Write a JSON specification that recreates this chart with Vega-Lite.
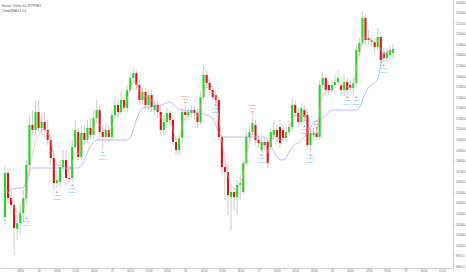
{
"$schema":"https://vega.github.io/schema/vega-lite/v6.json",
"width":453,"height":268,"autosize":"none","padding":{"left":0,"top":0,"right":13,"bottom":7},"background":"white",
"config":{"view":{"stroke":null},"font":"Liberation Sans","axis":{"labelOverlap":false,"labelSeparation":0,"labelBound":false}},
"title":{"text":["Bitcoin / Dollar, 60, BITFINEX","Trend BMA 41 1.4"],"anchor":"start","offset":-13,"fontSize":3,"fontWeight":"normal","color":"#555","lineHeight":5,"dx":2},
"datasets":{
"bars":[
{"t":"2019-08-23T13:00:00Z","o":10263,"h":10755,"l":10187,"c":10679,"f":10519,"s":10519},
{"t":"2019-08-23T14:00:00Z","o":10679,"h":10727,"l":10377,"c":10443,"f":10500,"s":10519},
{"t":"2019-08-23T15:00:00Z","o":10443,"h":10519,"l":10282,"c":10377,"f":10452,"s":10528},
{"t":"2019-08-23T16:00:00Z","o":10377,"h":10424,"l":9904,"c":10159,"f":10358,"s":10528},
{"t":"2019-08-23T17:00:00Z","o":10150,"h":10282,"l":10046,"c":10206,"f":10310,"s":10537},
{"t":"2019-08-23T18:00:00Z","o":10206,"h":10377,"l":10093,"c":10301,"f":10301,"s":10537},
{"t":"2019-08-23T19:00:00Z","o":10301,"h":10519,"l":10216,"c":10443,"f":10348,"s":10537},
{"t":"2019-08-23T20:00:00Z","o":10443,"h":10802,"l":10377,"c":10755,"f":10471,"s":10594},
{"t":"2019-08-23T21:00:00Z","o":10755,"h":11228,"l":10708,"c":11134,"f":10689,"s":10689},
{"t":"2019-08-23T22:00:00Z","o":11134,"h":11275,"l":11039,"c":11086,"f":10850,"s":10727},
{"t":"2019-08-23T23:00:00Z","o":11086,"h":11370,"l":11039,"c":11256,"f":10992,"s":10727},
{"t":"2019-08-24T00:00:00Z","o":11256,"h":11370,"l":11067,"c":11105,"f":11039,"s":10727},
{"t":"2019-08-24T01:00:00Z","o":11105,"h":11228,"l":11039,"c":11162,"f":11086,"s":10727},
{"t":"2019-08-24T02:00:00Z","o":11162,"h":11256,"l":11011,"c":11086,"f":11096,"s":10727},
{"t":"2019-08-24T03:00:00Z","o":11086,"h":11181,"l":10944,"c":10992,"f":11067,"s":10727},
{"t":"2019-08-24T04:00:00Z","o":10992,"h":11039,"l":10755,"c":10821,"f":10992,"s":10727},
{"t":"2019-08-24T05:00:00Z","o":10821,"h":10897,"l":10519,"c":10585,"f":10850,"s":10727},
{"t":"2019-08-24T06:00:00Z","o":10585,"h":10708,"l":10537,"c":10613,"f":10755,"s":10727},
{"t":"2019-08-24T07:00:00Z","o":10594,"h":10802,"l":10537,"c":10736,"f":10746,"s":10727},
{"t":"2019-08-24T08:00:00Z","o":10736,"h":10897,"l":10689,"c":10802,"f":10765,"s":10727},
{"t":"2019-08-24T09:00:00Z","o":10802,"h":10897,"l":10566,"c":10632,"f":10727,"s":10727},
{"t":"2019-08-24T10:00:00Z","o":10632,"h":10755,"l":10585,"c":10623,"f":10689,"s":10727},
{"t":"2019-08-24T11:00:00Z","o":10632,"h":10992,"l":10594,"c":10925,"f":10774,"s":10727},
{"t":"2019-08-24T12:00:00Z","o":10925,"h":11181,"l":10897,"c":11086,"f":10878,"s":10727},
{"t":"2019-08-24T13:00:00Z","o":11067,"h":11105,"l":10802,"c":10831,"f":10859,"s":10727},
{"t":"2019-08-24T14:00:00Z","o":10831,"h":11134,"l":10802,"c":11058,"f":10935,"s":10746},
{"t":"2019-08-24T15:00:00Z","o":11058,"h":11134,"l":10944,"c":10992,"f":10963,"s":10802},
{"t":"2019-08-24T16:00:00Z","o":10992,"h":11181,"l":10963,"c":11105,"f":11020,"s":10878},
{"t":"2019-08-24T17:00:00Z","o":11105,"h":11200,"l":10992,"c":11039,"f":11030,"s":10935},
{"t":"2019-08-24T18:00:00Z","o":11039,"h":11275,"l":10992,"c":11200,"f":11096,"s":10973},
{"t":"2019-08-24T19:00:00Z","o":11200,"h":11370,"l":11162,"c":11275,"f":11171,"s":10992},
{"t":"2019-08-24T20:00:00Z","o":11275,"h":11323,"l":10992,"c":11067,"f":11134,"s":10992},
{"t":"2019-08-24T21:00:00Z","o":11067,"h":11134,"l":10916,"c":11020,"f":11086,"s":10992},
{"t":"2019-08-24T22:00:00Z","o":11020,"h":11162,"l":10973,"c":11086,"f":11086,"s":10992},
{"t":"2019-08-24T23:00:00Z","o":11086,"h":11134,"l":10973,"c":11020,"f":11058,"s":10992},
{"t":"2019-08-25T00:00:00Z","o":11020,"h":11275,"l":10992,"c":11228,"f":11124,"s":10992},
{"t":"2019-08-25T01:00:00Z","o":11228,"h":11389,"l":11200,"c":11323,"f":11209,"s":10992},
{"t":"2019-08-25T02:00:00Z","o":11323,"h":11370,"l":11200,"c":11256,"f":11228,"s":10992},
{"t":"2019-08-25T03:00:00Z","o":11256,"h":11446,"l":11228,"c":11370,"f":11285,"s":10992},
{"t":"2019-08-25T04:00:00Z","o":11370,"h":11417,"l":11256,"c":11294,"f":11294,"s":10992},
{"t":"2019-08-25T05:00:00Z","o":11294,"h":11512,"l":11256,"c":11465,"f":11370,"s":10992},
{"t":"2019-08-25T06:00:00Z","o":11465,"h":11635,"l":11436,"c":11578,"f":11465,"s":11011},
{"t":"2019-08-25T07:00:00Z","o":11578,"h":11673,"l":11540,"c":11625,"f":11540,"s":11086},
{"t":"2019-08-25T08:00:00Z","o":11625,"h":11654,"l":11465,"c":11512,"f":11531,"s":11181},
{"t":"2019-08-25T09:00:00Z","o":11512,"h":11559,"l":11323,"c":11370,"f":11465,"s":11256},
{"t":"2019-08-25T10:00:00Z","o":11370,"h":11484,"l":11323,"c":11446,"f":11455,"s":11294},
{"t":"2019-08-25T11:00:00Z","o":11446,"h":11484,"l":11275,"c":11323,"f":11398,"s":11304},
{"t":"2019-08-25T12:00:00Z","o":11323,"h":11465,"l":11275,"c":11417,"f":11408,"s":11304},
{"t":"2019-08-25T13:00:00Z","o":11417,"h":11465,"l":11256,"c":11304,"f":11361,"s":11304},
{"t":"2019-08-25T14:00:00Z","o":11275,"h":11370,"l":11228,"c":11323,"f":11342,"s":11313},
{"t":"2019-08-25T15:00:00Z","o":11323,"h":11370,"l":11200,"c":11256,"f":11304,"s":11323},
{"t":"2019-08-25T16:00:00Z","o":11256,"h":11323,"l":11039,"c":11086,"f":11200,"s":11323},
{"t":"2019-08-25T17:00:00Z","o":11086,"h":11228,"l":11039,"c":11162,"f":11181,"s":11332},
{"t":"2019-08-25T18:00:00Z","o":11162,"h":11294,"l":11105,"c":11247,"f":11209,"s":11342},
{"t":"2019-08-25T19:00:00Z","o":11247,"h":11275,"l":11134,"c":11181,"f":11200,"s":11351},
{"t":"2019-08-25T20:00:00Z","o":11181,"h":11228,"l":10944,"c":10973,"f":11086,"s":11332},
{"t":"2019-08-25T21:00:00Z","o":10973,"h":11011,"l":10850,"c":10897,"f":10992,"s":11304},
{"t":"2019-08-25T22:00:00Z","o":10897,"h":11039,"l":10850,"c":11011,"f":11001,"s":11275},
{"t":"2019-08-25T23:00:00Z","o":11011,"h":11294,"l":10973,"c":11256,"f":11134,"s":11275},
{"t":"2019-08-26T00:00:00Z","o":11256,"h":11323,"l":11181,"c":11228,"f":11181,"s":11266},
{"t":"2019-08-26T01:00:00Z","o":11228,"h":11294,"l":11181,"c":11256,"f":11219,"s":11266},
{"t":"2019-08-26T02:00:00Z","o":11247,"h":11323,"l":11200,"c":11275,"f":11247,"s":11266},
{"t":"2019-08-26T03:00:00Z","o":11275,"h":11323,"l":11181,"c":11247,"f":11247,"s":11256},
{"t":"2019-08-26T04:00:00Z","o":11247,"h":11294,"l":11105,"c":11162,"f":11209,"s":11247},
{"t":"2019-08-26T05:00:00Z","o":11162,"h":11446,"l":11134,"c":11398,"f":11304,"s":11247},
{"t":"2019-08-26T06:00:00Z","o":11398,"h":11701,"l":11370,"c":11607,"f":11455,"s":11238},
{"t":"2019-08-26T07:00:00Z","o":11607,"h":11654,"l":11484,"c":11531,"f":11493,"s":11228},
{"t":"2019-08-26T08:00:00Z","o":11531,"h":11578,"l":11417,"c":11465,"f":11484,"s":11219},
{"t":"2019-08-26T09:00:00Z","o":11465,"h":11512,"l":11370,"c":11398,"f":11436,"s":11200},
{"t":"2019-08-26T10:00:00Z","o":11417,"h":11465,"l":11323,"c":11370,"f":11408,"s":11134},
{"t":"2019-08-26T11:00:00Z","o":11370,"h":11398,"l":10992,"c":11020,"f":11209,"s":11058},
{"t":"2019-08-26T12:00:00Z","o":11020,"h":11039,"l":10660,"c":10736,"f":10973,"s":11020},
{"t":"2019-08-26T13:00:00Z","o":10736,"h":10802,"l":10424,"c":10689,"f":10831,"s":11020},
{"t":"2019-08-26T14:00:00Z","o":10689,"h":10755,"l":10282,"c":10471,"f":10651,"s":11020},
{"t":"2019-08-26T15:00:00Z","o":10452,"h":10566,"l":10140,"c":10500,"f":10575,"s":11020},
{"t":"2019-08-26T16:00:00Z","o":10500,"h":10537,"l":10329,"c":10452,"f":10519,"s":11020},
{"t":"2019-08-26T17:00:00Z","o":10452,"h":10613,"l":10282,"c":10566,"f":10537,"s":11020},
{"t":"2019-08-26T18:00:00Z","o":10566,"h":10660,"l":10424,"c":10585,"f":10566,"s":11020},
{"t":"2019-08-26T19:00:00Z","o":10500,"h":10802,"l":10471,"c":10774,"f":10670,"s":11020},
{"t":"2019-08-26T20:00:00Z","o":10774,"h":11067,"l":10755,"c":11020,"f":10850,"s":11020},
{"t":"2019-08-26T21:00:00Z","o":11020,"h":11105,"l":10973,"c":11067,"f":10963,"s":11020},
{"t":"2019-08-26T22:00:00Z","o":11067,"h":11200,"l":11039,"c":11152,"f":11058,"s":11020},
{"t":"2019-08-26T23:00:00Z","o":11134,"h":11181,"l":10944,"c":10992,"f":11030,"s":11020},
{"t":"2019-08-27T00:00:00Z","o":10992,"h":11039,"l":10916,"c":10963,"f":10992,"s":11020},
{"t":"2019-08-27T01:00:00Z","o":10897,"h":11011,"l":10878,"c":10973,"f":10982,"s":11020},
{"t":"2019-08-27T02:00:00Z","o":10973,"h":11011,"l":10897,"c":10944,"f":10963,"s":11020},
{"t":"2019-08-27T03:00:00Z","o":10973,"h":11011,"l":10727,"c":10774,"f":10869,"s":10992},
{"t":"2019-08-27T04:00:00Z","o":10925,"h":11105,"l":10897,"c":11067,"f":10973,"s":10944},
{"t":"2019-08-27T05:00:00Z","o":11039,"h":11181,"l":10992,"c":11086,"f":11030,"s":10878},
{"t":"2019-08-27T06:00:00Z","o":11086,"h":11134,"l":10973,"c":11020,"f":11020,"s":10831},
{"t":"2019-08-27T07:00:00Z","o":11115,"h":11181,"l":10916,"c":10963,"f":10992,"s":10802},
{"t":"2019-08-27T08:00:00Z","o":11086,"h":11134,"l":10973,"c":11011,"f":11001,"s":10802},
{"t":"2019-08-27T09:00:00Z","o":11011,"h":11134,"l":10973,"c":11067,"f":11039,"s":10821},
{"t":"2019-08-27T10:00:00Z","o":11067,"h":11181,"l":11039,"c":11115,"f":11077,"s":10878},
{"t":"2019-08-27T11:00:00Z","o":11115,"h":11389,"l":11086,"c":11323,"f":11200,"s":10925},
{"t":"2019-08-27T12:00:00Z","o":11323,"h":11370,"l":11200,"c":11247,"f":11228,"s":10954},
{"t":"2019-08-27T13:00:00Z","o":11247,"h":11294,"l":11124,"c":11162,"f":11200,"s":10963},
{"t":"2019-08-27T14:00:00Z","o":11162,"h":11342,"l":11134,"c":11294,"f":11247,"s":10992},
{"t":"2019-08-27T15:00:00Z","o":11275,"h":11323,"l":11162,"c":11209,"f":11228,"s":11020},
{"t":"2019-08-27T16:00:00Z","o":11228,"h":11275,"l":10897,"c":10944,"f":11086,"s":11058},
{"t":"2019-08-27T17:00:00Z","o":10944,"h":11105,"l":10878,"c":11058,"f":11077,"s":11115},
{"t":"2019-08-27T18:00:00Z","o":11039,"h":11105,"l":10992,"c":11058,"f":11067,"s":11152},
{"t":"2019-08-27T19:00:00Z","o":11058,"h":11105,"l":10992,"c":11020,"f":11048,"s":11181},
{"t":"2019-08-27T20:00:00Z","o":11020,"h":11559,"l":10992,"c":11512,"f":11275,"s":11181},
{"t":"2019-08-27T21:00:00Z","o":11512,"h":11635,"l":11484,"c":11578,"f":11427,"s":11200},
{"t":"2019-08-27T22:00:00Z","o":11578,"h":11607,"l":11417,"c":11465,"f":11446,"s":11228},
{"t":"2019-08-27T23:00:00Z","o":11512,"h":11559,"l":11417,"c":11465,"f":11455,"s":11256},
{"t":"2019-08-28T00:00:00Z","o":11465,"h":11559,"l":11446,"c":11512,"f":11484,"s":11275},
{"t":"2019-08-28T01:00:00Z","o":11512,"h":11607,"l":11484,"c":11540,"f":11512,"s":11275},
{"t":"2019-08-28T02:00:00Z","o":11540,"h":11654,"l":11512,"c":11578,"f":11540,"s":11275},
{"t":"2019-08-28T03:00:00Z","o":11512,"h":11559,"l":11417,"c":11465,"f":11502,"s":11275},
{"t":"2019-08-28T04:00:00Z","o":11465,"h":11607,"l":11417,"c":11540,"f":11521,"s":11275},
{"t":"2019-08-28T05:00:00Z","o":11540,"h":11578,"l":11417,"c":11465,"f":11493,"s":11275},
{"t":"2019-08-28T06:00:00Z","o":11512,"h":11559,"l":11446,"c":11484,"f":11484,"s":11275},
{"t":"2019-08-28T07:00:00Z","o":11484,"h":11578,"l":11417,"c":11531,"f":11512,"s":11275},
{"t":"2019-08-28T08:00:00Z","o":11531,"h":11890,"l":11484,"c":11843,"f":11673,"s":11275},
{"t":"2019-08-28T09:00:00Z","o":11824,"h":11957,"l":11796,"c":11909,"f":11796,"s":11294},
{"t":"2019-08-28T10:00:00Z","o":11909,"h":12202,"l":11890,"c":12146,"f":11966,"s":11370},
{"t":"2019-08-28T11:00:00Z","o":12146,"h":12174,"l":11890,"c":11938,"f":11957,"s":11436},
{"t":"2019-08-28T12:00:00Z","o":11957,"h":12032,"l":11890,"c":11938,"f":11947,"s":11493},
{"t":"2019-08-28T13:00:00Z","o":11919,"h":11985,"l":11871,"c":11938,"f":11938,"s":11512},
{"t":"2019-08-28T14:00:00Z","o":11919,"h":11957,"l":11824,"c":11871,"f":11909,"s":11531},
{"t":"2019-08-28T15:00:00Z","o":11871,"h":12051,"l":11843,"c":11966,"f":11938,"s":11559},
{"t":"2019-08-28T16:00:00Z","o":11966,"h":12013,"l":11701,"c":11748,"f":11843,"s":11701},
{"t":"2019-08-28T17:00:00Z","o":11815,"h":11862,"l":11720,"c":11767,"f":11805,"s":11815},
{"t":"2019-08-28T18:00:00Z","o":11767,"h":11862,"l":11730,"c":11815,"f":11815,"s":11824},
{"t":"2019-08-28T19:00:00Z","o":11796,"h":11890,"l":11748,"c":11843,"f":11824,"s":11834},
{"t":"2019-08-28T20:00:00Z","o":11815,"h":11900,"l":11760,"c":11853,"f":11830,"s":11843}
],
"sig":[
{"t":"2019-08-23T20:00:00Z","p":10254,"k":"Long","v":"10756.0"},
{"t":"2019-08-24T06:00:00Z","p":10500,"k":"Long","v":"10613.0"},
{"t":"2019-08-24T11:00:00Z","p":10566,"k":"Long","v":"10925.0"},
{"t":"2019-08-24T21:00:00Z","p":10878,"k":"Long","v":"11020.0"},
{"t":"2019-08-26T10:00:00Z","p":11323,"k":"Long","v":"11370.0"},
{"t":"2019-08-27T01:00:00Z","p":10850,"k":"Long","v":"10973.0"},
{"t":"2019-08-27T15:00:00Z","p":11124,"k":"Long","v":"11209.0"},
{"t":"2019-08-27T17:00:00Z","p":10850,"k":"Long","v":"11058.0"},
{"t":"2019-08-28T05:00:00Z","p":11398,"k":"Long","v":"11540.0"},
{"t":"2019-08-28T08:00:00Z","p":11398,"k":"Long","v":"11531.0"},
{"t":"2019-08-28T17:00:00Z","p":11701,"k":"Long","v":"11767.0"},
{"t":"2019-08-26T00:00:00Z","p":11342,"k":"Short","v":"11228.0"},
{"t":"2019-08-26T22:00:00Z","p":11256,"k":"Short","v":"11152.0"},
{"t":"2019-08-27T19:00:00Z","p":11105,"k":"Short","v":"11020.0"}
]},
"layer":[
{"data":{"name":"bars"},"mark":{"type":"rule","color":"#a8a8a8","strokeWidth":0.6,"clip":true},
"encoding":{
"x":{"field":"t","type":"temporal","title":null,
"scale":{"type":"utc","domain":[1566565260000,1567087200000]},
"axis":{"orient":"bottom","grid":false,"tickCount":40,"values":[1566583200000,1566604800000,1566626400000,1566648000000,1566669600000,1566691200000,1566712800000,1566734400000,1566756000000,1566777600000,1566799200000,1566820800000,1566842400000,1566864000000,1566885600000,1566907200000,1566928800000,1566950400000,1566972000000,1566993600000,1567015200000,1567036800000,1567058400000,1567080000000],"labelExpr":"utchours(datum.value)==0 ? ''+utcdate(datum.value) : utcFormat(datum.value,'%H:%M')","labelFontSize":2.7,"labelColor":"#666","domainColor":"#cfcfcf","tickColor":"#cfcfcf","tickSize":1.2,"labelPadding":1,"labelFlush":false,"labelOverlap":false,"labelSeparation":0}},
"y":{"field":"l","type":"quantitative","title":null,
"scale":{"domain":[9781,12316],"nice":false,"zero":false},
"axis":{"orient":"right","grid":false,"tickCount":40,"values":[9800,9900,10000,10100,10200,10300,10400,10500,10600,10700,10800,10900,11000,11100,11200,11300,11400,11500,11600,11700,11800,11900,12000,12100,12200,12300],"format":".1f","labelFontSize":2.9,"labelColor":"#666","domainColor":"#cfcfcf","tickColor":"#cfcfcf","tickSize":1.2,"labelPadding":1.2,"labelFlush":false,"labelOverlap":false,"labelSeparation":0}},
"y2":{"field":"h"}}},
{"data":{"name":"bars"},"mark":{"type":"bar","width":2.1,"clip":true},
"encoding":{"x":{"field":"t","type":"temporal"},"y":{"field":"o","type":"quantitative"},"y2":{"field":"c"},
"color":{"condition":{"test":"datum.c >= datum.o","value":"#1ed81e"},"value":"#d81414"}}},
{"data":{"name":"bars"},"mark":{"type":"line","color":"#8c8cff","strokeWidth":0.6,"clip":true},
"encoding":{"x":{"field":"t","type":"temporal"},"y":{"field":"s","type":"quantitative"}}},
{"data":{"name":"bars"},"mark":{"type":"line","color":"#ff9c9c","strokeWidth":0.6,"clip":true},
"encoding":{"x":{"field":"t","type":"temporal"},"y":{"field":"f","type":"quantitative"}}},
{"data":{"name":"sig"},"transform":[{"filter":"datum.k == 'Long'"}],
"mark":{"type":"point","shape":"triangle-up","filled":true,"size":4,"color":"#2196f3","opacity":1},
"encoding":{"x":{"field":"t","type":"temporal"},"y":{"field":"p","type":"quantitative"}}},
{"data":{"name":"sig"},"transform":[{"filter":"datum.k == 'Long'"}],
"mark":{"type":"text","fontSize":2.5,"color":"#2196f3","dy":3.6,"baseline":"middle"},
"encoding":{"x":{"field":"t","type":"temporal"},"y":{"field":"p","type":"quantitative"},"text":{"field":"k"}}},
{"data":{"name":"sig"},"transform":[{"filter":"datum.k == 'Long'"}],
"mark":{"type":"text","fontSize":2.2,"color":"#2196f3","dy":6.8,"baseline":"middle"},
"encoding":{"x":{"field":"t","type":"temporal"},"y":{"field":"p","type":"quantitative"},"text":{"field":"v"}}},
{"data":{"name":"sig"},"transform":[{"filter":"datum.k == 'Short'"}],
"mark":{"type":"point","shape":"triangle-down","filled":true,"size":4,"color":"#ff4a4a","opacity":1},
"encoding":{"x":{"field":"t","type":"temporal"},"y":{"field":"p","type":"quantitative"}}},
{"data":{"name":"sig"},"transform":[{"filter":"datum.k == 'Short'"}],
"mark":{"type":"text","fontSize":2.5,"color":"#ff4a4a","dy":-3.6,"baseline":"middle"},
"encoding":{"x":{"field":"t","type":"temporal"},"y":{"field":"p","type":"quantitative"},"text":{"field":"k"}}},
{"data":{"name":"sig"},"transform":[{"filter":"datum.k == 'Short'"}],
"mark":{"type":"text","fontSize":2.2,"color":"#ff4a4a","dy":-6.8,"baseline":"middle"},
"encoding":{"x":{"field":"t","type":"temporal"},"y":{"field":"p","type":"quantitative"},"text":{"field":"v"}}}
]
}
